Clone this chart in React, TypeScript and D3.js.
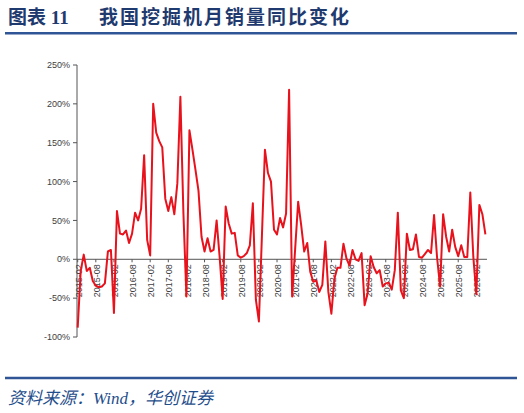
import React from 'react';
import * as d3 from 'd3';

// Monthly excavator sales YoY (%), starting 2015-02
const startYear = 2015;
const startMonthIndex = 1; // February
const yoy: number[] = [
  -88, -15, 6, -15, -11, -28, -34, -36, -35, -31, 10, 12,
  -69, 62, 33, 32, 37, 21, 33, 60, 50, 65, 134, 25,
  5, 200, 163, 152, 144, 78, 62, 80, 58, 98, 209, 60,
  -48, 166, 141, 115, 88, 29, 10, 27, 10, 12, 50, 3,
  -51, 68, 46, 33, 34, 5, 2, 4, 8, 18, 72, -52,
  -80, 30, 141, 111, 100, 38, 32, 53, 41, 59, 218, -48,
  13, 74, 44, 10, 21, -16, -29, -27, -42, -33, 23, -42,
  -70, -25, -11, -11, 20, 1, -8, 12, 0, -2, 8, -59,
  -44, 4, -10, -18, -14, -35, -31, -30, -39, -14, 60, -40,
  -50, 33, 12, 13, 32, 3, 2, 7, 12, 8, 57, 2,
  -35, 58, 29, 10, 38, 16, 4, 18, 3, 3, 86, 3,
  -45, 70, 58, 32,
];
const yTicks = [-100, -50, 0, 50, 100, 150, 200, 250];
const labelEvery = 6;

const titleLeft = '图表 11';
const titleMain = '我国挖掘机月销量同比变化';
const sourceText = '资料来源：Wind，华创证券';

export default function App() {
  const W = 524;
  const H = 413;
  const fmt = d3.timeFormat('%Y-%m');
  const months = d3
    .timeMonth.range(
      new Date(startYear, startMonthIndex, 1),
      new Date(startYear, startMonthIndex + yoy.length, 1)
    )
    .map((d) => fmt(d));

  const x = d3.scalePoint<string>().domain(months).range([77.7, 485.4]);
  const y = d3.scaleLinear().domain([-100, 250]).range([337, 65]);

  const line = d3
    .line<number>()
    .x((_, i) => x(months[i]) as number)
    .y((d) => y(d));

  const labelMonths = months.filter((_, i) => i % labelEvery === 0);
  const axisColor = '#555555';
  const textColor = '#404040';
  const y0 = y(0);

  return (
    <svg
      width={W}
      height={H}
      style={{ position: 'absolute', left: 0, top: 0, background: '#fff' }}
    >
      <rect x={0} y={0} width={W} height={H} fill="#fff" />
      {/* Title */}
      <text
        x={8}
        y={24}
        fontFamily="'Liberation Serif', 'Noto Sans CJK SC'"
        fontWeight="bold"
        fontSize={19}
        fill="#1F3A6E"
      >
        {titleLeft}
      </text>
      <text
        x={99}
        y={24}
        fontFamily="'Liberation Serif', 'Noto Sans CJK SC'"
        fontWeight="bold"
        fontSize={19}
        letterSpacing={2}
        fill="#1F3A6E"
      >
        {titleMain}
      </text>
      <line x1={5} x2={517} y1={33.3} y2={33.3} stroke="#2F5597" strokeWidth={2.5} />

      {/* Y axis */}
      <line x1={77} x2={77} y1={y(250)} y2={y(-100)} stroke={axisColor} strokeWidth={1} />
      {yTicks.map((t) => (
        <g key={t}>
          <line x1={73} x2={77} y1={y(t)} y2={y(t)} stroke={axisColor} strokeWidth={1} />
          <text
            x={70}
            y={y(t)}
            dy="0.35em"
            textAnchor="end"
            fontFamily="'Liberation Sans', Arial, sans-serif"
            fontSize={9}
            fill={textColor}
          >
            {`${t}%`}
          </text>
        </g>
      ))}

      {/* X axis */}
      <line x1={77} x2={487} y1={y0} y2={y0} stroke={axisColor} strokeWidth={1} />
      {labelMonths.map((m) => {
        const xp = x(m) as number;
        return (
          <g key={m}>
            <line x1={xp} x2={xp} y1={y0} y2={y0 + 3} stroke={axisColor} strokeWidth={1} />
            <text
              transform={`translate(${xp + 1},${y0 + 5}) rotate(-90)`}
              dy="0.35em"
              textAnchor="end"
              fontFamily="'Liberation Sans', Arial, sans-serif"
              fontSize={9}
              fill={textColor}
            >
              {m}
            </text>
          </g>
        );
      })}

      {/* Line */}
      <path
        d={line(yoy) || ''}
        fill="none"
        stroke="#E8121D"
        strokeWidth={2}
        strokeLinejoin="round"
      />

      {/* Footer */}
      <line x1={5} x2={517} y1={378} y2={378} stroke="#2F5597" strokeWidth={2.5} />
      <text
        x={8}
        y={404}
        fontFamily="'Liberation Serif', 'Noto Sans CJK SC'"
        fontStyle="italic"
        fontSize={17}
        fill="#1F4E8C"
      >
        {sourceText}
      </text>
    </svg>
  );
}
